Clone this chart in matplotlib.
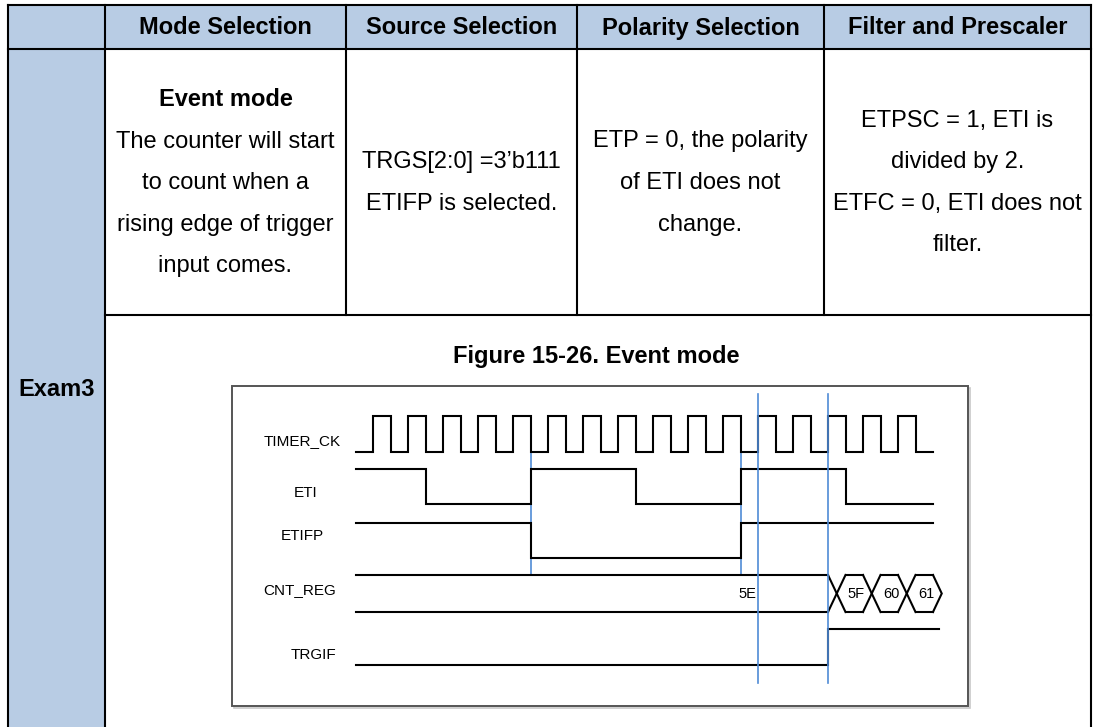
"""Timer slave mode example table (Exam3, event mode) with its timing diagram."""
import matplotlib
matplotlib.use("Agg")
import matplotlib.pyplot as plt
from matplotlib.patches import Rectangle

plt.rcParams["font.family"] = ["Liberation Sans", "DejaVu Sans"]

# ---- table content ----
HEADERS = ["Mode Selection", "Source Selection", "Polarity Selection", "Filter and Prescaler"]
ROW_LABEL = "Exam3"
CELL_LINES = [
    ["Event mode", "The counter will start", "to count when a",
     "rising edge of trigger", "input comes."],
    ["TRGS[2:0] =3\u2019b111", "ETIFP is selected."],
    ["ETP = 0, the polarity", "of ETI does not", "change."],
    ["ETPSC = 1, ETI is", "divided by 2.", "ETFC = 0, ETI does not", "filter."],
]
FIG_TITLE = "Figure 15-26. Event mode"

# ---- timing data (time in TIMER_CK half periods, 0 = first rising edge) ----
T_START, T_END = -1, 32
CLK_RISE = [0, 2, 4, 6, 8, 10, 12, 14, 16, 18, 20, 22, 24, 26, 28, 30]
ETI_START, ETI_TOGGLES = 1, [3, 9, 15, 21, 27]
ETIFP_START, ETIFP_TOGGLES = 1, [9, 21]
TRGIF_START, TRGIF_TOGGLES, TRGIF_END = 0, [26], 32.35
CNT_VALUES = ["5E", "5F", "60", "61"]
CNT_CHANGES = [26.5, 28.5, 30.5]
CNT_END = 32.5
CNT_LABEL_AT = [21.4, 27.6, 29.6, 31.6]
MARK_SHORT = [9, 21]
MARK_LONG = [22, 26]
SIGNALS = ["TIMER_CK", "ETI", "ETIFP", "CNT_REG", "TRGIF"]

# ---- layout (pixels) ----
W, H = 1095, 727
COL_X = [8, 105, 346, 577, 824, 1091]
Y_TOP, Y_HEAD, Y_ROW2 = 5, 49, 315
BLUE = "#B8CCE4"
LW = 1.5
FS = 17

fig = plt.figure(figsize=(W / 100, H / 100), dpi=100)
ax = fig.add_axes([0, 0, 1, 1])
ax.set_xlim(0, W)
ax.set_ylim(H, 0)
ax.axis("off")

# fills
ax.add_patch(Rectangle((COL_X[0], Y_TOP), COL_X[-1] - COL_X[0], Y_HEAD - Y_TOP,
                       facecolor=BLUE, edgecolor="none", zorder=0))
ax.add_patch(Rectangle((COL_X[0], Y_HEAD), COL_X[1] - COL_X[0], H - Y_HEAD,
                       facecolor=BLUE, edgecolor="none", zorder=0))

# grid lines
for yy in (Y_TOP, Y_HEAD):
    ax.plot([COL_X[0], COL_X[-1]], [yy, yy], color="black", lw=LW, solid_capstyle="projecting")
ax.plot([COL_X[1], COL_X[-1]], [Y_ROW2, Y_ROW2], color="black", lw=LW)
for i, xx in enumerate(COL_X):
    bottom = H if i in (0, 1, len(COL_X) - 1) else Y_ROW2
    ax.plot([xx, xx], [Y_TOP, bottom], color="black", lw=LW, solid_capstyle="projecting")

# header + row texts
centers = [(COL_X[i] + COL_X[i + 1]) / 2 for i in range(len(COL_X) - 1)]
for i, h in enumerate(HEADERS):
    ax.text(centers[i + 1], (Y_TOP + Y_HEAD) / 2 + 1, h, ha="center", va="center",
            fontsize=FS, fontweight="bold")
ax.text(centers[0], 390, ROW_LABEL, ha="center", va="center", fontsize=FS, fontweight="bold")

row_mid, line_gap = 183, 41.5
for i, lines in enumerate(CELL_LINES):
    y0 = row_mid - line_gap * (len(lines) - 1) / 2
    for j, s in enumerate(lines):
        bold = (i == 0 and j == 0)
        ax.text(centers[i + 1], y0 + j * line_gap, s, ha="center", va="center",
                fontsize=FS, fontweight="bold" if bold else "normal")

ax.text(596, 357, FIG_TITLE, ha="center", va="center", fontsize=FS, fontweight="bold")

# ---- timing diagram box ----
BX0, BX1, BY0, BY1 = 232, 968, 386, 706
ax.add_patch(Rectangle((BX0 + 2, BY0 + 2), BX1 - BX0, BY1 - BY0, facecolor="none",
                       edgecolor="#c8c8c8", lw=1.2, zorder=1))
ax.add_patch(Rectangle((BX0, BY0), BX1 - BX0, BY1 - BY0, facecolor="white",
                       edgecolor="#555555", lw=1.4, zorder=2))

X0, HALF = 373, 17.5  # pixel of t=0 and pixels per half period
tax = fig.add_axes([BX0 / W, 1 - BY1 / H, (BX1 - BX0) / W, (BY1 - BY0) / H])
tax.set_xlim((BX0 - X0) / HALF, (BX1 - X0) / HALF)
tax.set_ylim(BY1, BY0)
tax.axis("off")
tax.patch.set_alpha(0)

LANES = {"TIMER_CK": (416, 452), "ETI": (469, 504), "ETIFP": (523, 558),
         "CNT_REG": (575, 612), "TRGIF": (629, 665)}
LABEL_POS = {"TIMER_CK": (302, 441), "ETI": (306, 493), "ETIFP": (302, 536),
             "CNT_REG": (300, 590), "TRGIF": (313, 655)}
WAVE = dict(color="black", lw=1.5, solid_joinstyle="miter", zorder=4)


def steps(start_level, toggles, t0, t1):
    xs, ys = [t0], [start_level]
    lvl = start_level
    for t in toggles:
        xs += [t, t]
        ys += [lvl, 1 - lvl]
        lvl = 1 - lvl
    xs.append(t1)
    ys.append(lvl)
    return xs, ys


def draw_wave(name, start_level, toggles, t1=T_END):
    hi, lo = LANES[name]
    xs, ys = steps(start_level, toggles, T_START, t1)
    tax.plot(xs, [hi if v else lo for v in ys], **WAVE)


clk_toggles = []
for r in CLK_RISE:
    clk_toggles += [r, r + 1]
draw_wave("TIMER_CK", 0, clk_toggles)
draw_wave("ETI", ETI_START, ETI_TOGGLES)
draw_wave("ETIFP", ETIFP_START, ETIFP_TOGGLES)
draw_wave("TRGIF", TRGIF_START, TRGIF_TOGGLES, TRGIF_END)

# bus
top, bot = LANES["CNT_REG"]
mid = (top + bot) / 2
edges = [T_START] + CNT_CHANGES
for k in range(len(CNT_VALUES)):
    a = edges[k] + (0 if k == 0 else 0.5)
    b = CNT_CHANGES[k] - 0.5 if k < len(CNT_CHANGES) else CNT_END - 0.5
    tax.plot([a, b], [top, top], **WAVE)
    tax.plot([a, b], [bot, bot], **WAVE)
    tax.text(CNT_LABEL_AT[k], mid + 1, CNT_VALUES[k], ha="center", va="center",
             fontsize=10.5, zorder=5)
for c in CNT_CHANGES:
    tax.plot([c - 0.5, c + 0.5], [top, bot], **WAVE)
    tax.plot([c - 0.5, c + 0.5], [bot, top], **WAVE)
tax.plot([CNT_END - 0.5, CNT_END, CNT_END - 0.5], [top, mid, bot], **WAVE)

# markers
for t in MARK_SHORT:
    tax.plot([t, t], [452, 575], color="#4F8BD6", lw=1.2, zorder=3)
for t in MARK_LONG:
    tax.plot([t, t], [BY0 + 8, 683], color="#4F8BD6", lw=1.2, zorder=6, clip_on=False)

for name in SIGNALS:
    x, y = LABEL_POS[name]
    ax.text(x, y, name, ha="center", va="center", fontsize=11, zorder=5)

fig.savefig("out.png", dpi=100)
